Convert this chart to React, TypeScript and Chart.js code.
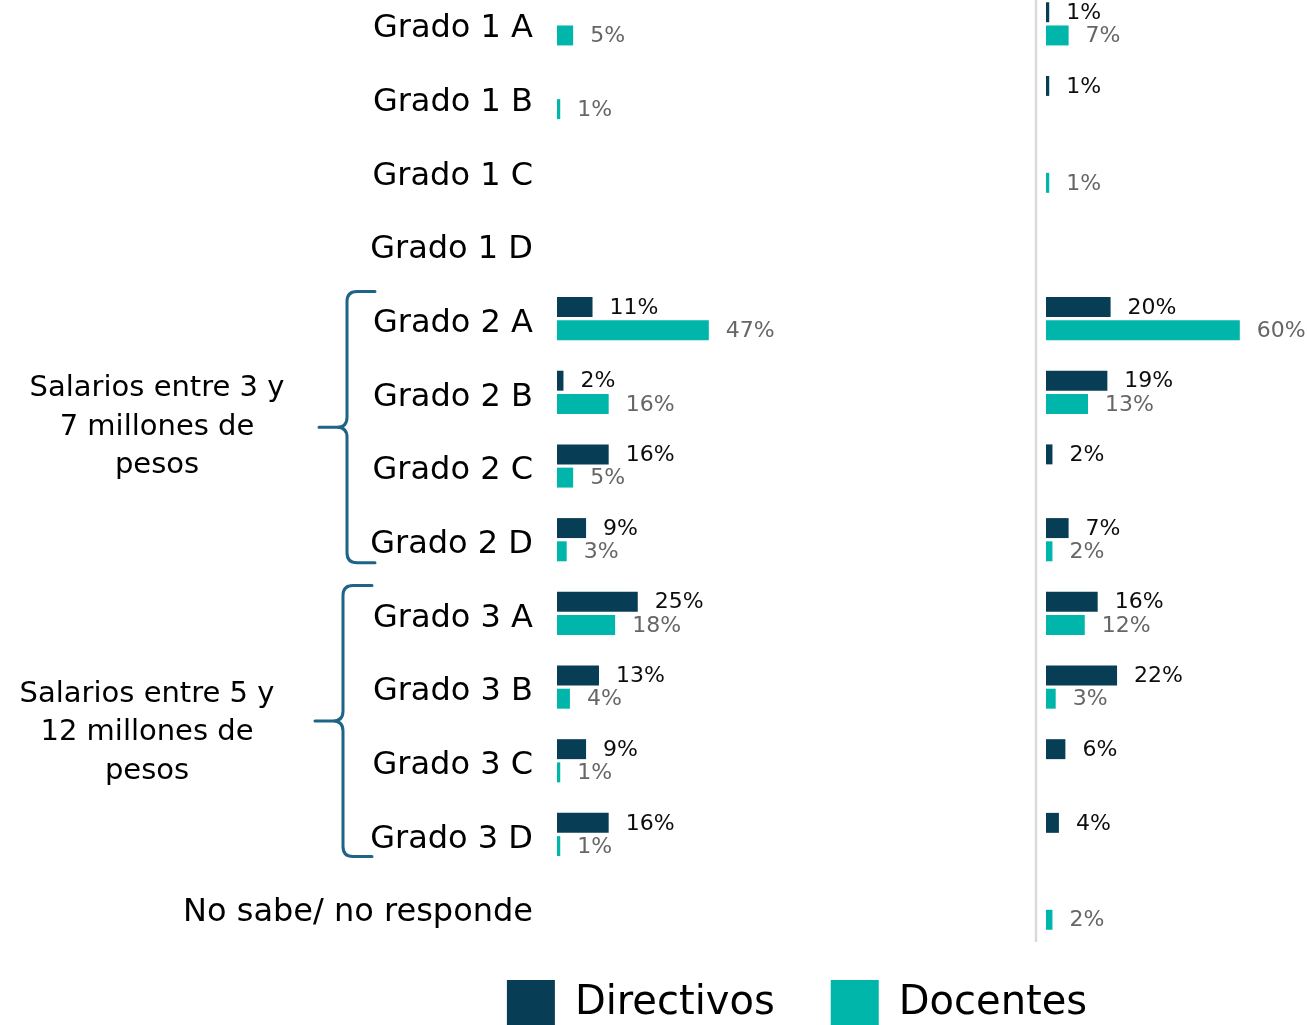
import React, { useEffect, useRef } from "react";
import { Chart, registerables } from "chart.js";

Chart.register(...registerables);

// ---------- data ----------
const CATEGORIES = [
  "Grado 1 A",
  "Grado 1 B",
  "Grado 1 C",
  "Grado 1 D",
  "Grado 2 A",
  "Grado 2 B",
  "Grado 2 C",
  "Grado 2 D",
  "Grado 3 A",
  "Grado 3 B",
  "Grado 3 C",
  "Grado 3 D",
  "No sabe/ no responde",
];
const SERIES_NAMES = ["Directivos", "Docentes"];
const LEFT_DIRECTIVOS = [0, 0, 0, 0, 11, 2, 16, 9, 25, 13, 9, 16, 0];
const LEFT_DOCENTES = [5, 1, 0, 0, 47, 16, 5, 3, 18, 4, 1, 1, 0];
const RIGHT_DIRECTIVOS = [1, 1, 0, 0, 20, 19, 2, 7, 16, 22, 6, 4, 0];
const RIGHT_DOCENTES = [7, 0, 1, 0, 60, 13, 0, 2, 12, 3, 0, 0, 2];
const GROUP_LABELS = [
  ["Salarios entre 3 y", "7 millones de", "pesos"],
  ["Salarios entre 5 y", "12 millones de", "pesos"],
];
const GROUP_SPANS = [
  [4, 7],
  [8, 11],
];

// ---------- styles / layout ----------
const FONT = "'DejaVu Sans', 'Liberation Sans', sans-serif";
const BAR_COLORS = ["#083E55", "#00B5AA"];
const LABEL_COLORS = ["#0d0d0d", "#666666"];
const BRACE_COLOR = "#1E6388";
const CANVAS_W = 1307;
const CANVAS_TOP = -13;
const PLOT_H = 958;
const LEGEND_PAD = 56;
const LEGEND_LIFT = 21;
const LEGEND_BOX = 48;
const LEGEND_H = LEGEND_BOX + LEGEND_PAD + 10;
const CANVAS_H = PLOT_H + LEGEND_H;
const LEFT_START = 557;
const RIGHT_START = 1046;
const PX_PER_PCT = 3.23;
const LEGEND_CENTER = 797;

const BRACES = [
  { xv: 347, xArm: 375, xTip: 319, topOff: -27, botOff: 23, textX: 157, textDy: 0 },
  { xv: 343, xArm: 372, xTip: 315, topOff: -28, botOff: 22, textX: 147, textDy: 12 },
];

const decorPlugin = {
  id: "decor",
  afterLayout(chart: any) {
    const lg = chart.legend;
    if (lg) {
      const shift = LEGEND_CENTER - (lg.left + lg.right) / 2;
      lg.left += shift;
      lg.right += shift;
      lg.top -= LEGEND_LIFT;
      lg.bottom -= LEGEND_LIFT;
    }
  },
  afterDatasetsDraw(chart: any) {
    const ctx = chart.ctx;
    ctx.save();
    ctx.font = `22px ${FONT}`;
    ctx.textBaseline = "middle";
    ctx.textAlign = "left";
    chart.data.datasets.forEach((ds: any, di: number) => {
      const meta = chart.getDatasetMeta(di);
      meta.data.forEach((bar: any, i: number) => {
        const v = ds.data[i];
        if (!v) return;
        ctx.fillStyle = LABEL_COLORS[di % 2];
        ctx.fillText(`${v}%`, bar.x + 17, bar.y + 1);
      });
    });
    ctx.restore();
  },
  afterDraw(chart: any) {
    const ctx = chart.ctx;
    const y = chart.scales.y;
    const x2 = chart.scales.x2;
    const area = chart.chartArea;
    ctx.save();
    // separator line
    const lx = x2.getPixelForValue(0) - 10;
    ctx.strokeStyle = "#d9d9d9";
    ctx.lineWidth = 2.5;
    ctx.beginPath();
    ctx.moveTo(lx, area.top);
    ctx.lineTo(lx, area.bottom - 3);
    ctx.stroke();

    // braces and group labels
    GROUP_SPANS.forEach(([a, b], gi) => {
      const br = BRACES[gi];
      const yTop = y.getPixelForValue(a) + br.topOff;
      const yBot = y.getPixelForValue(b) + br.botOff;
      const yMid = (yTop + yBot) / 2;
      const r = 10;
      ctx.strokeStyle = BRACE_COLOR;
      ctx.lineWidth = 3;
      ctx.lineCap = "round";
      ctx.lineJoin = "round";
      ctx.beginPath();
      ctx.moveTo(br.xArm, yTop);
      ctx.lineTo(br.xv + r, yTop);
      ctx.quadraticCurveTo(br.xv, yTop, br.xv, yTop + r);
      ctx.lineTo(br.xv, yMid - r);
      ctx.quadraticCurveTo(br.xv, yMid, br.xv - r, yMid);
      ctx.lineTo(br.xTip, yMid);
      ctx.moveTo(br.xv - r, yMid);
      ctx.quadraticCurveTo(br.xv, yMid, br.xv, yMid + r);
      ctx.lineTo(br.xv, yBot - r);
      ctx.quadraticCurveTo(br.xv, yBot, br.xv + r, yBot);
      ctx.lineTo(br.xArm, yBot);
      ctx.stroke();

      ctx.fillStyle = "#000";
      ctx.font = `29px ${FONT}`;
      ctx.textAlign = "center";
      ctx.textBaseline = "middle";
      const lines = GROUP_LABELS[gi];
      const lh = 38.5;
      const c = yMid + br.textDy;
      lines.forEach((t, li) => {
        ctx.fillText(t, br.textX, c + (li - (lines.length - 1) / 2) * lh);
      });
    });
    ctx.restore();
  },
};

export default function App() {
  const ref = useRef<HTMLCanvasElement | null>(null);

  useEffect(() => {
    if (!ref.current) return;
    Chart.defaults.font.family = FONT;
    const mk = (label: string, data: number[], axis: string, s: number) => ({
      label,
      data,
      xAxisID: axis,
      stack: s === 0 ? "dir" : "doc",
      backgroundColor: BAR_COLORS[s],
      borderWidth: 0,
      categoryPercentage: 0.63,
      barPercentage: 0.86,
    });
    const chart = new Chart(ref.current, {
      type: "bar",
      data: {
        labels: CATEGORIES,
        datasets: [
          mk(SERIES_NAMES[0], LEFT_DIRECTIVOS, "x", 0),
          mk(SERIES_NAMES[1], LEFT_DOCENTES, "x", 1),
          mk(SERIES_NAMES[0], RIGHT_DIRECTIVOS, "x2", 0),
          mk(SERIES_NAMES[1], RIGHT_DOCENTES, "x2", 1),
        ],
      },
      options: {
        indexAxis: "y",
        responsive: false,
        animation: false,
        devicePixelRatio: 1,
        layout: { padding: 0 },
        scales: {
          y: {
            type: "category",
            position: "left",
            grid: { display: false, drawTicks: false },
            border: { display: false },
            ticks: {
              color: "#000",
              padding: 24,
              labelOffset: 5,
              font: { size: 32, family: FONT },
              autoSkip: false,
            },
            afterFit: (s: any) => {
              s.width = LEFT_START;
              s.paddingTop = 0;
              s.paddingBottom = 0;
            },
          },
          x: {
            type: "linear",
            position: "bottom",
            display: false,
            min: 0,
            max: (CANVAS_W - LEFT_START) / PX_PER_PCT,
          },
          x2: {
            type: "linear",
            position: "bottom",
            display: false,
            min: -(RIGHT_START - LEFT_START) / PX_PER_PCT,
            max: (CANVAS_W - RIGHT_START) / PX_PER_PCT,
          },
        },
        plugins: {
          tooltip: { enabled: false },
          legend: {
            position: "bottom",
            labels: {
              color: "#000",
              font: { size: 40, family: FONT },
              boxWidth: LEGEND_BOX,
              boxHeight: LEGEND_BOX,
              padding: LEGEND_PAD,
              filter: (item: any) => item.datasetIndex < 2,
            },
          },
        },
      },
      plugins: [decorPlugin],
    } as any);
    return () => chart.destroy();
  }, []);

  return (
    <div
      style={{
        position: "absolute",
        left: 0,
        top: 0,
        width: CANVAS_W,
        height: 1025,
        overflow: "hidden",
        background: "#fff",
      }}
    >
      <canvas
        ref={ref}
        width={CANVAS_W}
        height={CANVAS_H}
        style={{ position: "absolute", left: 0, top: CANVAS_TOP, width: CANVAS_W, height: CANVAS_H }}
      />
    </div>
  );
}
